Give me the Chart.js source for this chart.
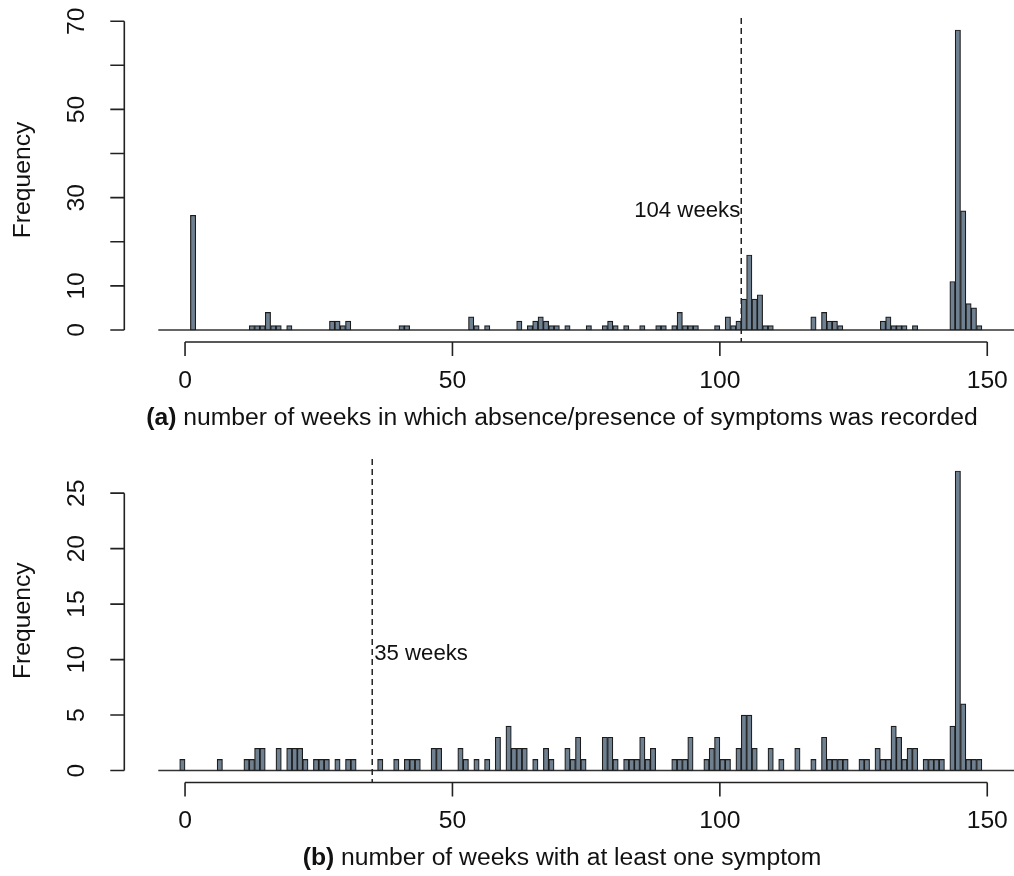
<!DOCTYPE html>
<html>
<head>
<meta charset="utf-8">
<script src="https://cdn.jsdelivr.net/npm/chart.js@4.4.1/dist/chart.umd.min.js"></script>
<style>
  html, body { margin: 0; padding: 0; background: #fff; }
  canvas { display: block; }
</style>
</head>
<body>
<canvas id="chartA" width="1014" height="438"></canvas>
<canvas id="chartB" width="1014" height="438"></canvas>
<script>
// (a) number of weeks in which absence/presence of symptoms was recorded
const weeksA = [2, 13, 14, 15, 16, 17, 18, 20, 28, 29, 30, 31, 41, 42, 54, 55, 57, 63, 65, 66,
  67, 68, 69, 70, 72, 76, 79, 80, 81, 83, 86, 89, 90, 92, 93, 94, 95, 96, 100, 102,
  103, 104, 105, 106, 107, 108, 109, 110, 118, 120, 121, 122, 123, 131, 132, 133, 134, 135, 137, 144,
  145, 146, 147, 148, 149];
const freqA = [26, 1, 1, 1, 4, 1, 1, 1, 2, 2, 1, 2, 1, 1, 3, 1, 1, 2, 1, 2,
  3, 2, 1, 1, 1, 1, 1, 2, 1, 1, 1, 1, 1, 1, 4, 1, 1, 1, 1, 3,
  1, 2, 7, 17, 7, 8, 1, 1, 3, 4, 2, 2, 1, 2, 3, 1, 1, 1, 1, 11,
  68, 27, 6, 5, 1];

// (b) number of weeks with at least one symptom
const weeksB = [0, 7, 12, 13, 14, 15, 18, 20, 21, 22, 23, 25, 26, 27, 29, 31, 32, 37, 40, 42,
  43, 44, 47, 48, 52, 53, 55, 57, 59, 61, 62, 63, 64, 66, 68, 69, 72, 73, 74, 75,
  79, 80, 81, 83, 84, 85, 86, 87, 88, 92, 93, 94, 95, 98, 99, 100, 101, 102, 104, 105,
  106, 107, 110, 112, 115, 118, 120, 121, 122, 123, 124, 127, 128, 130, 131, 132, 133, 134, 135, 136,
  137, 139, 140, 141, 142, 144, 145, 146, 147, 148, 149];
const freqB = [1, 1, 1, 1, 2, 2, 2, 2, 2, 2, 1, 1, 1, 1, 1, 1, 1, 1, 1, 1,
  1, 1, 2, 2, 2, 1, 1, 1, 3, 4, 2, 2, 2, 1, 2, 1, 2, 1, 3, 1,
  3, 3, 1, 1, 1, 1, 3, 1, 2, 1, 1, 1, 3, 1, 2, 3, 1, 1, 2, 5,
  5, 2, 2, 1, 2, 1, 3, 1, 1, 1, 1, 1, 1, 2, 1, 1, 4, 3, 1, 2,
  2, 1, 1, 1, 1, 4, 27, 6, 1, 1, 1];

const xTicks = [0, 50, 100, 150];
const yTicksA = [0, 10, 20, 30, 40, 50, 60, 70];
const yLabelsA = [0, 10, 30, 50, 70];   // R drops the overlapping ones
const yTicksB = [0, 5, 10, 15, 20, 25];
const yLabelsB = [0, 5, 10, 15, 20, 25];

const FONT = '"Liberation Sans", Arial, sans-serif';
const BASE = '24.7px ';
const SMALL = '22.2px ';
const BAR_FILL = '#6f8091';
const BAR_EDGE = '#1c1c1c';
const INK = '#111';

// base-R style axes, zero line, reference line and labels
const rAxes = {
  id: 'rAxes',
  beforeDatasetsDraw(chart, args, o) {
    const { ctx, chartArea, scales: { y } } = chart;
    const y0 = y.getPixelForValue(0);
    ctx.save();
    ctx.strokeStyle = '#333';
    ctx.lineWidth = 1.6;
    ctx.beginPath();
    ctx.moveTo(chartArea.left, y0);
    ctx.lineTo(chartArea.right, y0);
    ctx.stroke();
    ctx.restore();
  },
  afterDraw(chart, args, o) {
    const { ctx, chartArea, scales: { x, y } } = chart;
    ctx.save();
    ctx.strokeStyle = '#222';
    ctx.fillStyle = INK;
    ctx.lineWidth = 1.6;

    // reference line
    const vx = x.getPixelForValue(o.vline);
    ctx.setLineDash([6, 4]);
    ctx.lineWidth = 1.5;
    ctx.beginPath();
    ctx.moveTo(vx, chartArea.top);
    ctx.lineTo(vx, chartArea.bottom);
    ctx.stroke();
    ctx.setLineDash([]);
    ctx.lineWidth = 1.6;

    ctx.font = SMALL + FONT;
    ctx.textBaseline = 'middle';
    ctx.textAlign = o.vlabelAlign;
    ctx.fillText(o.vlabel, vx + (o.vlabelAlign === 'left' ? 2 : -1), y.getPixelForValue(o.vlabelY));

    // x axis
    ctx.font = BASE + FONT;
    const xb = chartArea.bottom;
    ctx.beginPath();
    ctx.moveTo(x.getPixelForValue(xTicks[0]), xb);
    ctx.lineTo(x.getPixelForValue(xTicks[xTicks.length - 1]), xb);
    xTicks.forEach(t => {
      const px = x.getPixelForValue(t);
      ctx.moveTo(px, xb);
      ctx.lineTo(px, xb + 14);
    });
    ctx.stroke();
    ctx.textAlign = 'center';
    xTicks.forEach(t => ctx.fillText(String(t), x.getPixelForValue(t), xb + 39));

    // x title with bold tag
    const tagFont = 'bold ' + BASE + FONT;
    const txtFont = BASE + FONT;
    ctx.font = tagFont;
    const wTag = ctx.measureText(o.tag).width;
    ctx.font = txtFont;
    const wTxt = ctx.measureText(' ' + o.title).width;
    const tx = o.titleCenter - (wTag + wTxt) / 2;
    ctx.textAlign = 'left';
    ctx.font = tagFont;
    ctx.fillText(o.tag, tx, xb + 76);
    ctx.font = txtFont;
    ctx.fillText(' ' + o.title, tx + wTag, xb + 76);

    // y axis
    const ax = chartArea.left - 34;
    const yt = o.yTicks;
    ctx.beginPath();
    ctx.moveTo(ax, y.getPixelForValue(yt[0]));
    ctx.lineTo(ax, y.getPixelForValue(yt[yt.length - 1]));
    yt.forEach(t => {
      const py = y.getPixelForValue(t);
      ctx.moveTo(ax, py);
      ctx.lineTo(ax - 14, py);
    });
    ctx.stroke();
    o.yLabels.forEach(t => {
      ctx.save();
      ctx.translate(ax - 47, y.getPixelForValue(t));
      ctx.rotate(-Math.PI / 2);
      ctx.textAlign = 'center';
      ctx.textBaseline = 'middle';
      ctx.fillText(String(t), 0, 0);
      ctx.restore();
    });

    // y title
    ctx.save();
    ctx.translate(23, (chartArea.top + chartArea.bottom) / 2);
    ctx.rotate(-Math.PI / 2);
    ctx.textAlign = 'center';
    ctx.textBaseline = 'middle';
    ctx.fillText('Frequency', 0, 0);
    ctx.restore();

    ctx.restore();
  }
};

function drawHist(id, weeks, freq, axisOpts, padTop, padBottom) {
  const top = Math.max(...freq);
  const ext = 0.04 * top;   // R's default 4% axis extension
  new Chart(document.getElementById(id), {
    type: 'bar',
    data: {
      datasets: [{
        data: weeks.map((w, i) => ({ x: w - 0.5, y: freq[i] })),
        backgroundColor: BAR_FILL,
        borderColor: BAR_EDGE,
        borderWidth: 1.2,
        borderSkipped: false,
        barPercentage: 1,
        categoryPercentage: 1
      }]
    },
    options: {
      responsive: false,
      animation: false,
      events: [],
      layout: { padding: { left: 158.3, right: 0, top: padTop, bottom: padBottom } },
      plugins: {
        legend: { display: false },
        tooltip: { enabled: false },
        rAxes: axisOpts
      },
      scales: {
        x: { type: 'linear', min: -5, max: 155, offset: false, display: false },
        y: { min: -ext, max: top + ext, display: false }
      }
    },
    plugins: [rAxes]
  });
}

drawHist('chartA', weeksA, freqA, {
  yTicks: yTicksA, yLabels: yLabelsA,
  vline: 104, vlabel: '104 weeks', vlabelY: 27, vlabelAlign: 'right',
  tag: '(a)', title: 'number of weeks in which absence/presence of symptoms was recorded',
  titleCenter: 562
}, 18, 96);

drawHist('chartB', weeksB, freqB, {
  yTicks: yTicksB, yLabels: yLabelsB,
  vline: 35, vlabel: '35 weeks', vlabelY: 10.5, vlabelAlign: 'left',
  tag: '(b)', title: 'number of weeks with at least one symptom',
  titleCenter: 562
}, 21, 93.5);
</script>
</body>
</html>
